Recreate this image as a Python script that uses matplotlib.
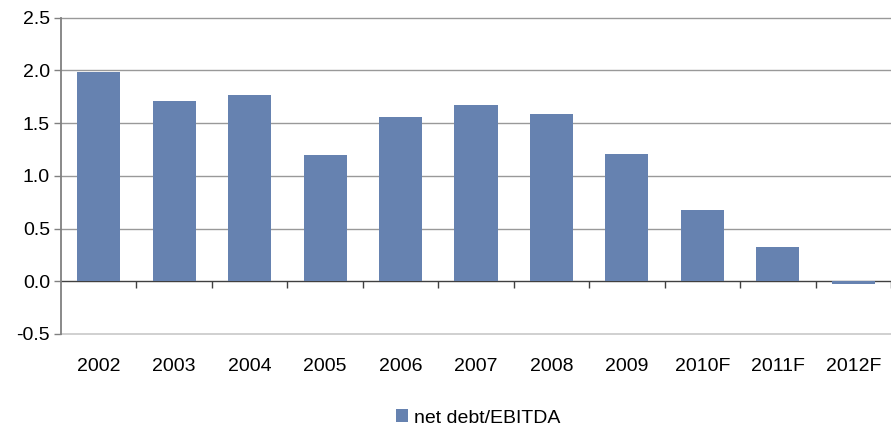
import numpy as np
import matplotlib.pyplot as plt

plt.rcParams['font.family'] = ['Liberation Sans', 'DejaVu Sans']

# data
years = ['2002', '2003', '2004', '2005', '2006', '2007', '2008', '2009',
         '2010F', '2011F', '2012F']
ratio = [1.98, 1.71, 1.77, 1.20, 1.56, 1.67, 1.59, 1.21, 0.68, 0.32, -0.03]

bar_color = '#6682b0'

fig = plt.figure(figsize=(8.91, 4.29), dpi=100)
ax = fig.add_axes([61/891, 1 - 334/429, 1 - 61/891, (334 - 17.5)/429])

x = np.arange(len(years))
ax.bar(x, ratio, width=0.57, color=bar_color, label='net debt/EBITDA', zorder=3)

ax.set_xlim(-0.5, len(years) - 0.5)
ax.set_ylim(-0.5, 2.5)
ax.set_yticks(np.arange(-0.5, 2.51, 0.5))
ax.set_yticklabels(['%.1f' % v for v in np.arange(-0.5, 2.51, 0.5)])

# grid lines
for v in np.arange(0.5, 2.51, 0.5):
    ax.axhline(v, color='#999999', lw=1, zorder=1, clip_on=False)
ax.axhline(-0.5, color='#c8c8c8', lw=1.2, zorder=1, clip_on=False)

# spines
for s in ['top', 'right', 'bottom']:
    ax.spines[s].set_visible(False)
ax.spines['left'].set_color('#808080')
ax.spines['left'].set_linewidth(1.3)
ax.tick_params(axis='y', length=5, width=1, color='#808080', labelsize=14, pad=3)

# category labels under the plot
ax.set_xticks(x)
ax.set_xticklabels(years)
ax.tick_params(axis='x', length=0, labelsize=14, pad=17.5)

# zero line with category divider ticks
sec = ax.secondary_xaxis(1/6)
sec.set_xticks(np.arange(0.5, len(years), 1.0))
sec.set_xticklabels([])
sec.tick_params(axis='x', length=5, width=1, color='#404040', direction='out')
sec.spines['bottom'].set_color('#404040')
sec.spines['bottom'].set_linewidth(1)

fig.legend(loc='center', bbox_to_anchor=(478/891, 1 - 418/429), frameon=False,
           fontsize=14, handlelength=0.65, handleheight=0.65, handletextpad=0.3)

plt.savefig('out.png', dpi=100)
